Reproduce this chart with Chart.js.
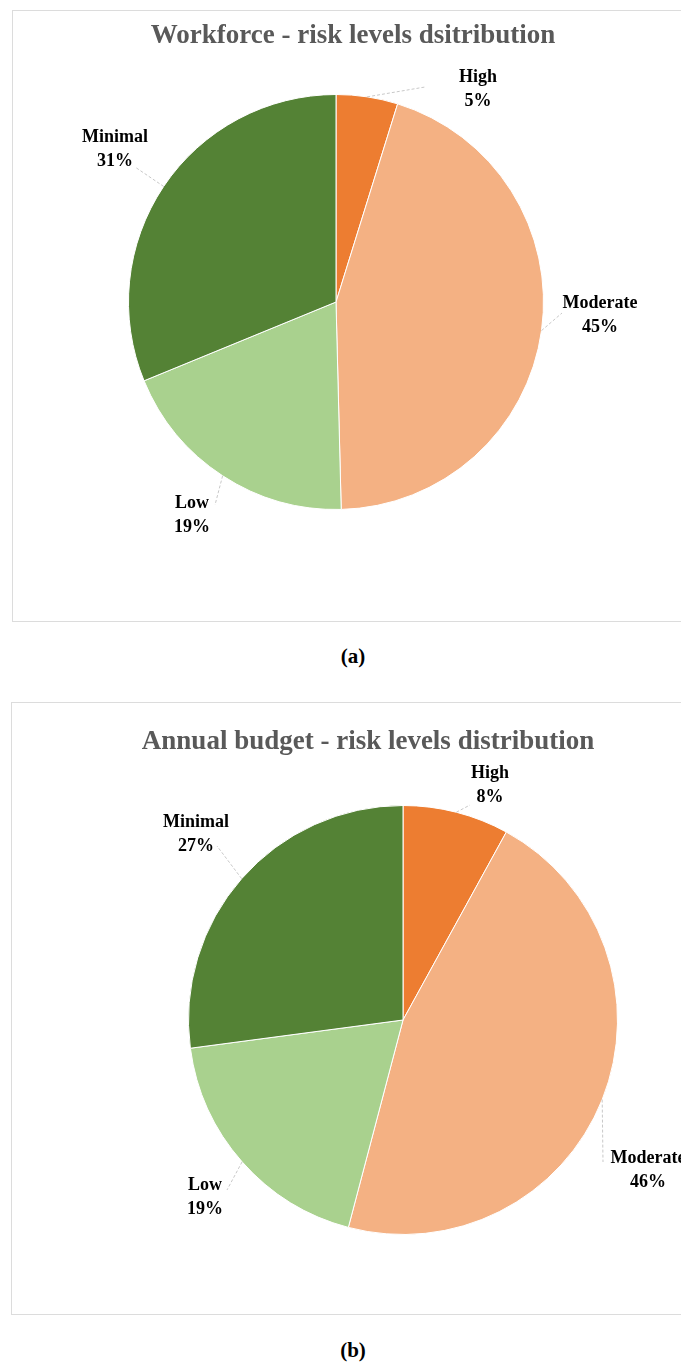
<!DOCTYPE html>
<html>
<head>
<meta charset="utf-8">
<script src="https://cdn.jsdelivr.net/npm/chart.js@4.4.0/dist/chart.umd.min.js"></script>
<style>
html, body { margin: 0; padding: 0; background: #fff; overflow: hidden; }
#page { position: relative; width: 681px; height: 1365px; overflow: hidden; }
.box { position: absolute; border: 1px solid #dcdcdc; background: #fff; }
#box1 { left: 12px; top: 10px; width: 700px; height: 610px; }
#box2 { left: 11px; top: 702px; width: 700px; height: 611px; }
.caption { position: absolute; left: 0; width: 706px; text-align: center; font: bold 21px "Liberation Serif", serif; color: #000; }
</style>
</head>
<body>
<div id="page">
  <div class="box" id="box1"><canvas id="chart1" width="700" height="610"></canvas></div>
  <div class="caption" style="top:644px">(a)</div>
  <div class="box" id="box2"><canvas id="chart2" width="700" height="611"></canvas></div>
  <div class="caption" style="top:1338px">(b)</div>
</div>
<script>
// data (percent shares; labels show them rounded)
const categories = ['High', 'Moderate', 'Low', 'Minimal'];
const workforceValues = [4.8, 44.8, 19.2, 31.2];
const budgetValues = [8, 46.1, 18.8, 27.1];
const workforceTitle = 'Workforce - risk levels dsitribution';
const budgetTitle = 'Annual budget - risk levels distribution';

const sliceColors = ['#ED7D31', '#F4B183', '#A9D18E', '#548235'];

// title + outside labels with leader lines (canvas px)
const pieLabels = {
    id: 'pieLabels',
    afterDatasetsDraw(chart, args, opts) {
        const ctx = chart.ctx;
        const meta = chart.getDatasetMeta(0);
        const values = chart.data.datasets[0].data;
        ctx.save();
        ctx.textAlign = 'center';
        ctx.textBaseline = 'alphabetic';

        ctx.font = 'bold 27px "Liberation Serif", serif';
        ctx.fillStyle = '#595959';
        ctx.fillText(opts.title, opts.titleX, opts.titleY);

        meta.data.forEach(function (arc, i) {
            const p = arc.getProps(['x', 'y', 'startAngle', 'endAngle', 'outerRadius'], true);
            const mid = (p.startAngle + p.endAngle) / 2;
            const sx = p.x + Math.cos(mid) * p.outerRadius;
            const sy = p.y + Math.sin(mid) * p.outerRadius;
            const lab = opts.labels[i];

            ctx.strokeStyle = '#c8c8c8';
            ctx.lineWidth = 1;
            ctx.setLineDash([3, 2]);
            ctx.beginPath();
            ctx.moveTo(sx, sy);
            ctx.lineTo(lab.lx, lab.ly);
            ctx.stroke();

            ctx.font = 'bold 18px "Liberation Serif", serif';
            ctx.fillStyle = '#000';
            ctx.fillText(chart.data.labels[i], lab.x, lab.y);
            ctx.fillText(Math.round(values[i]) + '%', lab.x, lab.y + 24);
        });
        ctx.restore();
    }
};

function makePie(id, values, padding, labelOpts) {
    return new Chart(document.getElementById(id), {
        type: 'pie',
        data: {
            labels: categories,
            datasets: [{
                data: values,
                backgroundColor: sliceColors,
                borderColor: '#ffffff',
                borderWidth: 1,
                hoverOffset: 0
            }]
        },
        options: {
            responsive: false,
            animation: false,
            layout: { padding: padding },
            plugins: {
                legend: { display: false },
                tooltip: { enabled: false },
                pieLabels: labelOpts
            }
        },
        plugins: [pieLabels]
    });
}

makePie('chart1', workforceValues,
    { left: 115, right: 169, top: 83, bottom: 111 },
    {
        title: workforceTitle, titleX: 340, titleY: 32,
        labels: [
            { x: 465, y: 71, lx: 412, ly: 76 },
            { x: 587, y: 297, lx: 549, ly: 302 },
            { x: 179, y: 497, lx: 202, ly: 494 },
            { x: 102, y: 131, lx: 122, ly: 156 }
        ]
    });

makePie('chart2', budgetValues,
    { left: 176, right: 94, top: 102, bottom: 79 },
    {
        title: budgetTitle, titleX: 356, titleY: 46,
        labels: [
            { x: 478, y: 75, lx: 458, ly: 102 },
            { x: 636, y: 460, lx: 591, ly: 459 },
            { x: 193, y: 487, lx: 215, ly: 487 },
            { x: 184, y: 124, lx: 205, ly: 143 }
        ]
    });
</script>
</body>
</html>
